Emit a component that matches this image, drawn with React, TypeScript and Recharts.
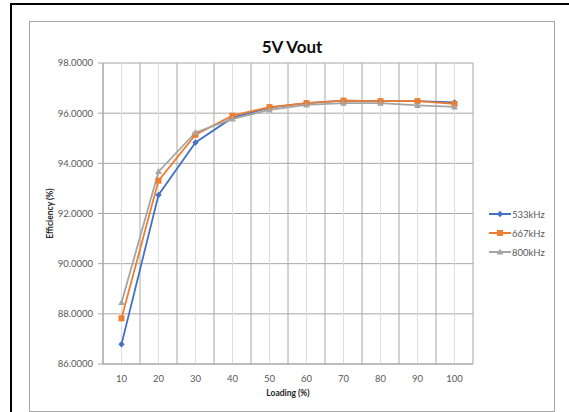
import {
  LineChart,
  Line,
  XAxis,
  YAxis,
  CartesianGrid,
  ReferenceLine,
  Legend,
} from "recharts";

const loads = [10, 20, 30, 40, 50, 60, 70, 80, 90, 100];
const eff533 = [86.79, 92.74, 94.83, 95.82, 96.22, 96.4, 96.5, 96.48, 96.48, 96.43];
const eff667 = [87.82, 93.31, 95.14, 95.9, 96.24, 96.4, 96.5, 96.48, 96.48, 96.37];
const eff800 = [88.45, 93.67, 95.23, 95.77, 96.13, 96.33, 96.4, 96.4, 96.31, 96.25];
const yTicks = [86, 88, 90, 92, 94, 96, 98];
const bandEdges = [5, 15, 25, 35, 45, 55, 65, 75, 85, 95, 105];

const series = [
  { key: "f533", name: "533kHz", color: "#4472C4", shape: "diamond" },
  { key: "f667", name: "667kHz", color: "#ED7D31", shape: "square" },
  { key: "f800", name: "800kHz", color: "#A5A5A5", shape: "triangle" },
];

const data = loads.map((load, i) => ({
  load,
  f533: eff533[i],
  f667: eff667[i],
  f800: eff800[i],
}));

const font = "Lato, 'Liberation Sans', sans-serif";

function marker(shape: string, color: string, cx: number, cy: number, key?: any) {
  if (shape === "diamond") {
    const r = 3.2;
    return (
      <path
        key={key}
        d={`M${cx},${cy - r}L${cx + r},${cy}L${cx},${cy + r}L${cx - r},${cy}Z`}
        fill={color}
      />
    );
  }
  if (shape === "square") {
    return <rect key={key} x={cx - 3} y={cy - 3} width={6} height={6} fill={color} />;
  }
  return (
    <path
      key={key}
      d={`M${cx},${cy - 3.5}L${cx + 3.3},${cy + 2.5}L${cx - 3.3},${cy + 2.5}Z`}
      fill={color}
    />
  );
}

const yTitle = ({ viewBox }: any) => {
  const cx = viewBox.x + 19.5;
  const cy = viewBox.y + viewBox.height / 2;
  return (
    <text
      x={cx}
      y={cy}
      transform={`rotate(-90 ${cx} ${cy})`}
      textAnchor="middle"
      dominantBaseline="central"
      fontSize={8.5}
      fontWeight="bold"
      fill="#262626"
      fontFamily={font}
    >
      Efficiency (%)
    </text>
  );
};

const xTitle = ({ viewBox }: any) => (
  <text
    x={viewBox.x + viewBox.width / 2}
    y={viewBox.y + 29.3}
    textAnchor="middle"
    dominantBaseline="central"
    fontSize={8.5}
    fontWeight="bold"
    fill="#262626"
    fontFamily={font}
  >
    Loading (%)
  </text>
);

const legendContent = () => (
  <div style={{ fontFamily: font, fontSize: 9.5, color: "#595959" }}>
    {series.map((s) => (
      <div key={s.key} style={{ display: "flex", alignItems: "center", height: 19 }}>
        <svg width={23} height={10}>
          <line x1={0} y1={5} x2={22} y2={5} stroke={s.color} strokeWidth={2} />
          {marker(s.shape, s.color, 11, 5)}
        </svg>
        <span>{s.name}</span>
      </div>
    ))}
  </div>
);

export default function App() {
  return (
    <div
      style={{
        position: "absolute",
        left: 0,
        top: 0,
        width: 569,
        height: 412,
        overflow: "hidden",
        background: "#fff",
      }}
    >
      <div
        style={{
          position: "absolute",
          left: 10,
          top: 3,
          width: 620,
          height: 500,
          border: "2px solid #000",
        }}
      />
      <div
        style={{
          position: "absolute",
          left: 29,
          top: 21,
          width: 524,
          height: 389,
          border: "1px solid #a6a6a6",
        }}
      />
      <div
        style={{
          position: "absolute",
          left: 30,
          top: 37,
          width: 524,
          lineHeight: "20px",
          textAlign: "center",
          fontFamily: font,
          fontWeight: "bold",
          fontSize: 17,
          color: "#0d0d0d",
        }}
      >
        5V Vout
      </div>
      <div style={{ position: "absolute", left: 30, top: 22 }}>
        <LineChart
          width={524}
          height={389}
          data={data}
          margin={{ top: 41, right: 81, bottom: 0, left: 0 }}
        >
          <CartesianGrid vertical={false} stroke="#a6a6a6" />
          {loads.map((v) => (
            <ReferenceLine key={"c" + v} x={v} stroke="#dedede" strokeWidth={1} />
          ))}
          {bandEdges.map((v) => (
            <ReferenceLine key={"e" + v} x={v} stroke="#a6a6a6" strokeWidth={1} />
          ))}
          <XAxis
            dataKey="load"
            type="number"
            domain={[5, 105]}
            ticks={loads}
            height={47}
            tickLine={false}
            tickSize={5}
            tickMargin={6}
            axisLine={{ stroke: "#a6a6a6" }}
            tick={{ fontSize: 9.5, fill: "#595959", fontFamily: font }}
            label={xTitle}
          />
          <YAxis
            type="number"
            domain={[86, 98]}
            ticks={yTicks}
            width={73}
            tickSize={5}
            tickMargin={5}
            tickLine={{ stroke: "#a6a6a6" }}
            axisLine={{ stroke: "#a6a6a6" }}
            tickFormatter={(v: number) => v.toFixed(4)}
            tick={{ fontSize: 9.5, fill: "#595959", fontFamily: font }}
            label={yTitle}
          />
          <Legend
            layout="vertical"
            align="center"
            verticalAlign="middle"
            content={legendContent}
            wrapperStyle={{ left: 459, top: 182.5, width: 70 }}
          />
          {series.map((s) => (
            <Line
              key={s.key}
              dataKey={s.key}
              name={s.name}
              stroke={s.color}
              strokeWidth={1.8}
              isAnimationActive={false}
              dot={(p: any) => marker(s.shape, s.color, p.cx, p.cy, p.index)}
              activeDot={false}
            />
          ))}
        </LineChart>
      </div>
    </div>
  );
}
